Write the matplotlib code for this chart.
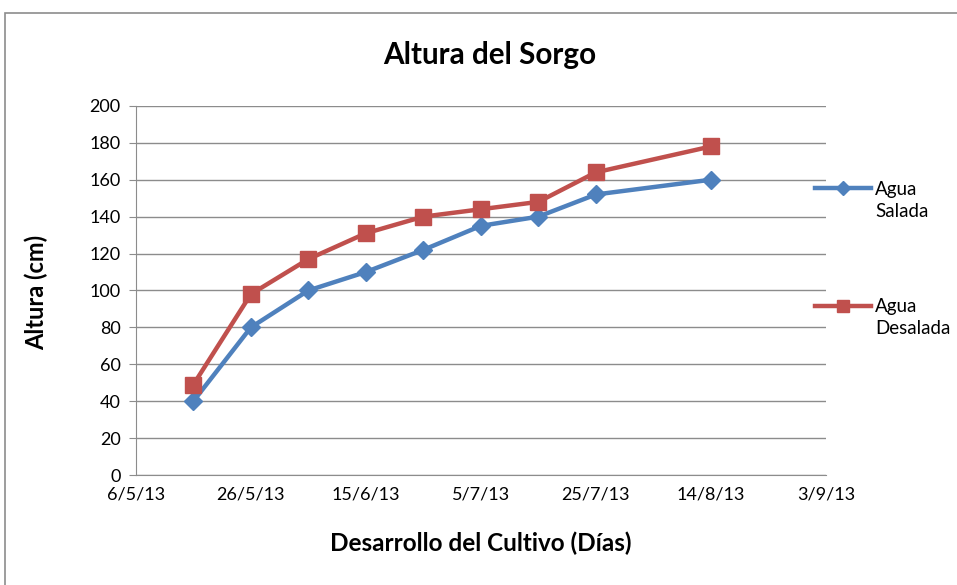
import datetime as dt
import matplotlib
matplotlib.use("Agg")
import matplotlib.pyplot as plt
from matplotlib.patches import Rectangle

plt.rcParams['font.family'] = ['Lato', 'DejaVu Sans']

# fechas de medicion
fechas = ["16/5/13", "26/5/13", "5/6/13", "15/6/13", "25/6/13",
          "5/7/13", "15/7/13", "25/7/13", "14/8/13"]
agua_salada = [40, 80, 100, 110, 122, 135, 140, 152, 160]
agua_desalada = [49, 98, 117, 131, 140, 144, 148, 164, 178]

ticks_x = ["6/5/13", "26/5/13", "15/6/13", "5/7/13", "25/7/13", "14/8/13", "3/9/13"]
ticks_y = [0, 20, 40, 60, 80, 100, 120, 140, 160, 180, 200]


def parse(s):
    return dt.datetime.strptime(s, "%d/%m/%y")


x = [parse(f) for f in fechas]
xt = [parse(t) for t in ticks_x]

fig = plt.figure(figsize=(9.57, 5.85), dpi=100)
ax = fig.add_axes([0.142, 0.188, 0.721, 0.631])

grey = "#8c8c8c"
l1, = ax.plot(x, agua_salada, color="#4F81BD", lw=3.2, marker="D", ms=9, zorder=3)
l2, = ax.plot(x, agua_desalada, color="#C0504D", lw=3.2, marker="s", ms=11, zorder=3)

ax.set_xlim(xt[0], xt[-1])
ax.set_ylim(0, 200)
ax.set_xticks(xt)
ax.set_xticklabels(ticks_x)
ax.set_yticks(ticks_y)
ax.tick_params(labelsize=13, color=grey)
ax.tick_params(axis="x", length=0, pad=8)
ax.tick_params(axis="y", length=5, pad=6)
ax.yaxis.grid(True, color=grey, lw=1)
ax.set_axisbelow(True)
for s in ["top", "right"]:
    ax.spines[s].set_visible(False)
for s in ["left", "bottom"]:
    ax.spines[s].set_color(grey)

fig.text(490 / 957, 1 - 55 / 585, "Altura del Sorgo", fontsize=21.3,
         fontweight="bold", ha="center", va="center")
fig.text(481 / 957, 1 - 543 / 585, "Desarrollo del Cultivo (Días)", fontsize=17.5,
         fontweight="bold", ha="center", va="center")
fig.text(36 / 957, 1 - 292 / 585, "Altura (cm)", fontsize=17,
         fontweight="bold", ha="center", va="center", rotation=90)

leg = fig.legend([l1, l2], ["Agua", "Agua"], loc="upper left",
                 bbox_to_anchor=(798 / 957, 1 - 164 / 585), frameon=False,
                 fontsize=13.5, handlelength=3.0, labelspacing=5.35,
                 handletextpad=0.2, markerscale=0.75)

fig.canvas.draw()
inv = fig.transFigure.inverted()
for t, segunda in zip(leg.get_texts(), ["Salada", "Desalada"]):
    bb = t.get_window_extent()
    x0, y0 = inv.transform((bb.x0, bb.y0))
    fig.text(x0, y0 - 0.008, segunda, fontsize=13.5, ha="left", va="top")

fig.patches.append(Rectangle((5 / 957, -0.1), 1.2, 1.1 - 13 / 585,
                             transform=fig.transFigure, fill=False,
                             edgecolor=grey, lw=1.2))

fig.savefig("out.png", dpi=100)
